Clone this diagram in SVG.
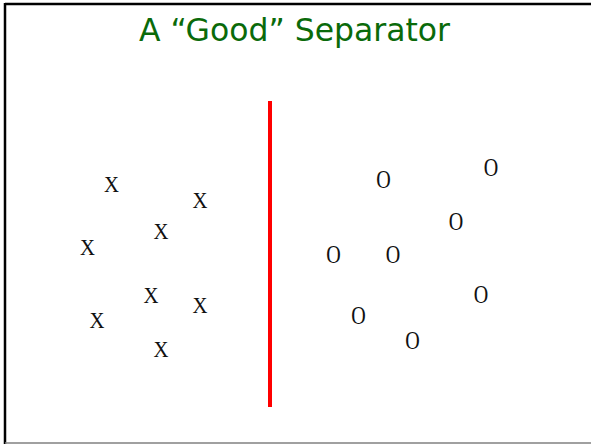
<svg xmlns="http://www.w3.org/2000/svg" width="591" height="444" viewBox="0 0 591 444">
<style>
.t{font-family:"DejaVu Sans","Liberation Sans",sans-serif;font-stretch:condensed;font-size:31.5px;fill:#0a6a0a}
.m{font-family:"Liberation Serif","Times New Roman",serif;font-size:24px;fill:#111;text-anchor:middle}
.o{font-family:"Liberation Serif","Times New Roman",serif;font-size:25.5px;fill:#111;text-anchor:middle}
</style>
<rect width="591" height="444" fill="#fff"/>
<line x1="5" y1="4" x2="591" y2="4" stroke="#000" stroke-width="2.5"/>
<line x1="5" y1="3" x2="5" y2="444" stroke="#000" stroke-width="2.5"/>
<line x1="5" y1="443" x2="591" y2="443" stroke="#808080" stroke-width="1.5"/>
<text class="t" x="139" y="41" textLength="311" lengthAdjust="spacingAndGlyphs">A “Good” Separator</text>
<g id="separator"><line x1="270" y1="101" x2="270" y2="407" stroke="#ff0000" stroke-width="4"/></g>
<g id="xs">
<text class="m" x="111.5" y="191.5" textLength="15" lengthAdjust="spacingAndGlyphs">X</text>
<text class="m" x="200" y="207.5" textLength="15" lengthAdjust="spacingAndGlyphs">X</text>
<text class="m" x="161" y="239" textLength="15" lengthAdjust="spacingAndGlyphs">X</text>
<text class="m" x="87.5" y="254.5" textLength="15" lengthAdjust="spacingAndGlyphs">X</text>
<text class="m" x="151" y="303" textLength="15" lengthAdjust="spacingAndGlyphs">X</text>
<text class="m" x="200" y="313" textLength="15" lengthAdjust="spacingAndGlyphs">X</text>
<text class="m" x="97" y="328" textLength="15" lengthAdjust="spacingAndGlyphs">X</text>
<text class="m" x="161" y="356.5" textLength="15" lengthAdjust="spacingAndGlyphs">X</text>
</g>
<g id="os">
<text class="o" x="383.5" y="187.5" textLength="14.5" lengthAdjust="spacingAndGlyphs">O</text>
<text class="o" x="491" y="175.5" textLength="14.5" lengthAdjust="spacingAndGlyphs">O</text>
<text class="o" x="456" y="229.5" textLength="14.5" lengthAdjust="spacingAndGlyphs">O</text>
<text class="o" x="333.5" y="262.5" textLength="14.5" lengthAdjust="spacingAndGlyphs">O</text>
<text class="o" x="393" y="262.5" textLength="14.5" lengthAdjust="spacingAndGlyphs">O</text>
<text class="o" x="481" y="303" textLength="14.5" lengthAdjust="spacingAndGlyphs">O</text>
<text class="o" x="358.5" y="323.5" textLength="14.5" lengthAdjust="spacingAndGlyphs">O</text>
<text class="o" x="412.5" y="349" textLength="14.5" lengthAdjust="spacingAndGlyphs">O</text>
</g>
</svg>
